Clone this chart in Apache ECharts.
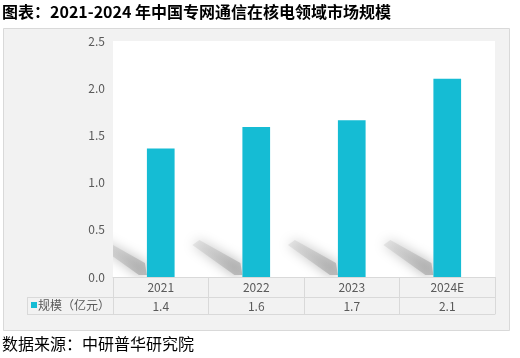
<!DOCTYPE html>
<html><head><meta charset="utf-8">
<script src="https://cdn.jsdelivr.net/npm/echarts@6/dist/echarts.min.js"></script>
<style>html,body{margin:0;padding:0;background:#fff}#c{width:520px;height:358px}</style>
</head><body><div id="c"></div>
<script>
const titleText = '图表：2021-2024 年中国专网通信在核电领域市场规模';
const sourceText = '数据来源：中研普华研究院';
const seriesName = '规模（亿元）';
const categories = ['2021', '2022', '2023', '2024E'];
const values = [1.36, 1.59, 1.66, 2.10];
const yTicks = { min: 0, max: 2.5, interval: 0.5 };

const barColor = '#15BCD4';
const gridLine = '#D9D9D9';
const textGray = '#595959';
const FONT = '"Noto Sans CJK SC", "Microsoft YaHei", sans-serif';

const chart = echarts.init(document.getElementById('c'), null, { renderer: 'canvas' });
const option = {
  animation: false,
  backgroundColor: '#fff',
  textStyle: { fontFamily: FONT },
  grid: { left: 113, right: 25, top: 41, bottom: 81, show: true, backgroundColor: '#fff', borderWidth: 0, z: 1 },
  xAxis: [
    {
      type: 'category', data: categories, position: 'bottom',
      axisLine: { show: true, lineStyle: { color: gridLine, width: 1 } },
      axisTick: { show: true, length: 37, lineStyle: { color: gridLine } },
      axisLabel: { color: textGray, fontSize: 12, margin: 4, fontFamily: FONT },
      z: 5
    },
    {
      type: 'category', data: values.map(v => v.toFixed(1)), position: 'bottom', offset: 20,
      axisLine: { show: true, lineStyle: { color: gridLine, width: 1 } },
      axisTick: { show: false },
      axisLabel: { color: textGray, fontSize: 12, margin: 3, fontFamily: FONT },
      z: 5
    },
    {
      type: 'category', data: categories, position: 'bottom', offset: 37,
      axisLine: { show: true, lineStyle: { color: gridLine, width: 1 } },
      axisTick: { show: false }, axisLabel: { show: false },
      z: 5
    }
  ],
  yAxis: {
    type: 'value', min: yTicks.min, max: yTicks.max, interval: yTicks.interval,
    axisLine: { show: false }, axisTick: { show: false }, splitLine: { show: false },
    axisLabel: { color: textGray, fontSize: 12, margin: 8, formatter: v => v.toFixed(1), fontFamily: FONT }
  },
  series: [
    {
      type: 'custom', clip: true, silent: true, z: 2,
      data: values.map((v, i) => [i, v]),
      renderItem: function (params, api) {
        const p = api.coord([api.value(0), 0]);
        const bw = api.size([1, 0])[0] * 0.29;
        const L = p[0] - bw / 2, B = p[1];
        return {
          type: 'polygon',
          shape: { points: [[L - 50, B - 32], [L - 43, B - 37], [L - 2, B - 14], [L, B - 2], [L - 8, B - 2]] },
          style: {
            fill: new echarts.graphic.LinearGradient(0, 0, 1, 1, [
              { offset: 0, color: 'rgba(200,200,200,0.35)' },
              { offset: 1, color: 'rgba(150,150,150,0.6)' }
            ]),
            shadowBlur: 12, shadowColor: 'rgba(125,125,125,1)'
          }
        };
      }
    },
    {
      name: seriesName, type: 'bar', data: values, barWidth: '29%', z: 3,
      itemStyle: { color: barColor }
    }
  ],
  graphic: [
    { type: 'rect', z: -10, shape: { x: 3.5, y: 28.5, width: 506, height: 302 }, style: { fill: '#F2F2F2', stroke: '#D9D9D9', lineWidth: 1 } },
    { type: 'text', z: 10, x: 2, y: 4, style: { text: titleText, font: 'bold 16px ' + FONT, fill: '#000' } },
    { type: 'text', z: 10, x: 2, y: 336, style: { text: sourceText, font: '16px ' + FONT, fill: '#000' } },
    { type: 'line', z: 10, shape: { x1: 27, y1: 297.5, x2: 113, y2: 297.5 }, style: { stroke: gridLine, lineWidth: 1 } },
    { type: 'line', z: 10, shape: { x1: 27, y1: 314.5, x2: 113, y2: 314.5 }, style: { stroke: gridLine, lineWidth: 1 } },
    { type: 'line', z: 10, shape: { x1: 27.5, y1: 297.5, x2: 27.5, y2: 314.5 }, style: { stroke: gridLine, lineWidth: 1 } },
    { type: 'rect', z: 10, shape: { x: 31, y: 302, width: 6, height: 6 }, style: { fill: barColor } },
    { type: 'text', z: 10, x: 38, y: 299, style: { text: seriesName, font: '12px ' + FONT, fill: textGray } }
  ]
};
chart.setOption(option);
</script></body></html>
